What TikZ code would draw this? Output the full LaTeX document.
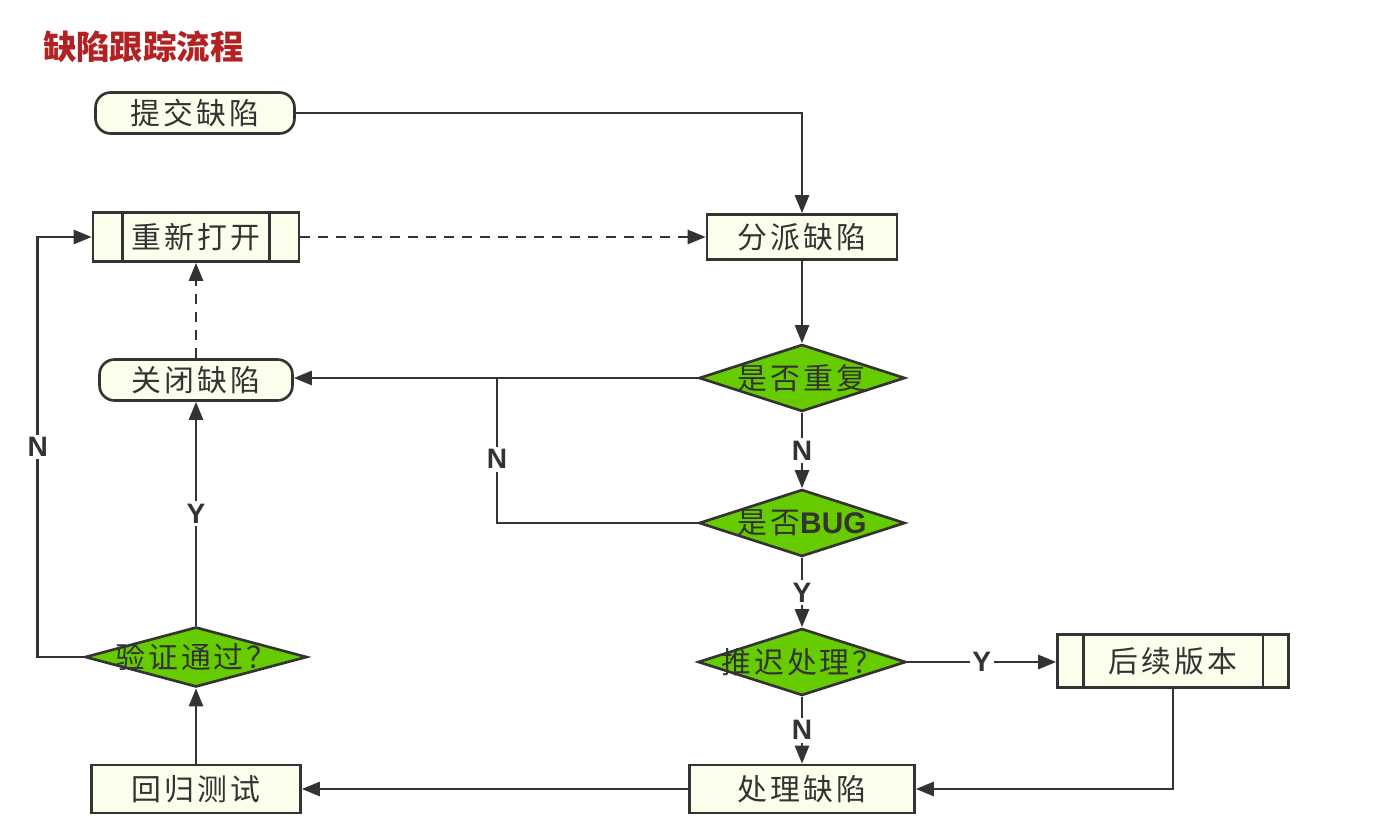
\documentclass[tikz,border=0pt]{standalone}
\usepackage{fontspec}
\setmainfont{Noto Sans CJK SC}
\newfontfamily\cjk{Noto Sans CJK SC}
\newfontfamily\cjkwide[LetterSpace=10]{Noto Sans CJK SC}
\newfontfamily\lbl{Liberation Sans}
\usetikzlibrary{shapes.geometric,arrows.meta}
\definecolor{boxfill}{HTML}{FDFDEB}
\definecolor{diafill}{HTML}{66CC00}
\definecolor{edge}{HTML}{333333}
\definecolor{titlered}{HTML}{B22222}

\begin{document}
\begin{tikzpicture}[x=0.02cm,y=-0.02cm,
  proc/.style={draw=edge, fill=boxfill, line width=1.5pt, inner sep=0pt,
    text=edge, font=\cjkwide\fontsize{17}{17}\selectfont},
  term/.style={proc, rounded corners=0.3cm},
  decide/.style={diamond, draw=edge, fill=diafill, line width=1.5pt, inner sep=0pt,
    text=edge, font=\cjkwide\fontsize{17}{17}\selectfont},
  flow/.style={draw=edge, line width=1.5pt, -{Triangle[length=0.36cm,width=0.28cm]}},
  weak/.style={flow, dash pattern=on 0.2cm off 0.16cm},
  yn/.style={fill=white, inner sep=1.5pt, text=edge, font=\lbl\bfseries\fontsize{16}{16}\selectfont}]
\useasboundingbox (0,0) rectangle (1385,834);

\node[anchor=west, text=titlered, font=\cjk\bfseries\fontsize{19}{19}\selectfont] (title) at (37,47) {缺陷跟踪流程};

\node[term, minimum width=3.98cm, minimum height=0.82cm] (submit) at (195,113) {提交缺陷};
\node[proc, minimum width=4.12cm, minimum height=0.98cm] (reopen) at (196,237) {重新打开};
\node[proc, minimum width=3.8cm, minimum height=0.9cm] (assign) at (802,237) {分派缺陷};
\node[decide, minimum width=4.12cm, minimum height=1.34cm] (isdup) at (802,378) {\makebox[0pt]{是否重复}};
\node[term, minimum width=3.86cm, minimum height=0.82cm] (close) at (196,380) {关闭缺陷};
\node[decide, minimum width=4.12cm, minimum height=1.34cm] (isbug) at (802,523) {\makebox[0pt]{是否{\lbl\bfseries BUG}}};
\node[decide, minimum width=4.16cm, minimum height=1.34cm] (defer) at (802,662) {\makebox[0pt]{推迟处理？}};
\node[proc, minimum width=4.62cm, minimum height=1.06cm] (later) at (1173,661) {后续版本};
\node[proc, minimum width=4.5cm, minimum height=0.96cm] (fix) at (802,789) {处理缺陷};
\node[proc, minimum width=4.18cm, minimum height=0.96cm] (regress) at (196,789) {回归测试};
\node[decide, minimum width=4.44cm, minimum height=1.2cm] (verify) at (196,657) {\makebox[0pt]{验证通过？}};

\foreach \n/\d in {reopen/0.62cm, later/0.54cm} {
  \draw[draw=edge, line width=1.5pt] ([xshift=\d]\n.north west) -- ([xshift=\d]\n.south west);
  \draw[draw=edge, line width=1.5pt] ([xshift=-\d]\n.north east) -- ([xshift=-\d]\n.south east);
}

\coordinate (join) at (497,378);

\draw[flow] (submit.east) -| (assign.north);
\draw[weak] (reopen.east) -- (assign.west);
\draw[flow] (assign.south) -- (isdup.north);
\draw[flow] (isdup.west) -- (isdup.west -| close.east);
\draw[flow] (isdup.south) -- node[yn] {N} (isbug.north);
\draw[draw=edge, line width=1.5pt] (isbug.west) -| node[yn, pos=0.72] {N} (join);
\draw[flow] (isbug.south) -- node[yn] {Y} (defer.north);
\draw[flow] (defer.east) -- node[yn] {Y} (defer.east -| later.west);
\draw[flow] (defer.south) -- node[yn] {N} (fix.north);
\draw[flow] (later.south) |- (fix.east);
\draw[flow] (fix.west) -- (regress.east);
\draw[flow] (regress.north) -- (verify.south);
\draw[flow] (verify.north) -- node[yn] {Y} (close.south);
\draw[flow] (verify.west) -- ++(-46,0) |- node[yn, pos=0.25] {N} (reopen.west);
\draw[weak] (close.north) -- (reopen.south);
\end{tikzpicture}
\end{document}
